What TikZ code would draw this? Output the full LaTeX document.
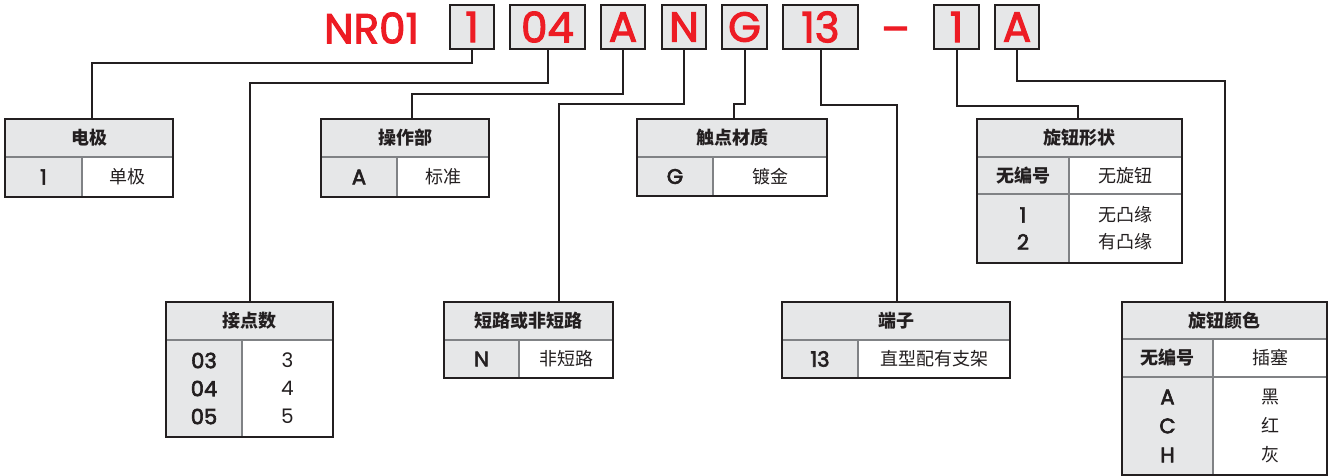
\documentclass[tikz,border=0pt]{standalone}
\usepackage{fontspec}
\setmainfont{Poppins}
\newfontfamily\redfont[FakeBold=2.5]{Poppins}
\newfontfamily\medfont[FakeBold=3]{Poppins}
\newfontfamily\cjk{Noto Sans CJK SC}
\definecolor{cred}{HTML}{ED1C24}
\definecolor{cgray}{HTML}{E6E7E8}
\definecolor{cdark}{HTML}{231F20}
\definecolor{cline}{HTML}{808285}
\begin{document}
\begin{tikzpicture}[x=1pt,y=-1pt,
  codebox/.style={draw=cdark, line width=2pt, fill=cgray, inner sep=0pt, minimum height=44pt, text=cred, font=\redfont\fontsize{42}{42}\selectfont},
  bigred/.style={inner sep=0pt, text=cred, font=\redfont\fontsize{42}{42}\selectfont},
  hdrcell/.style={fill=cgray, inner sep=0pt, text=cdark, font=\cjk\bfseries\fontsize{18}{18}\selectfont},
  codecell/.style={fill=cgray, inner sep=0pt, align=center, text=cdark, font=\medfont\fontsize{21}{28}\selectfont},
  codecjk/.style={codecell, font=\cjk\bfseries\fontsize{18}{28}\selectfont},
  valcell/.style={fill=white, inner sep=0pt, align=center, text=cdark, font=\cjk\fontsize{18}{28}\selectfont},
  valnum/.style={valcell, font=\fontsize{20}{28}\selectfont},
  frame/.style={draw=cdark, line width=2pt},
  grid/.style={draw=cline, line width=1.5pt},
  conn/.style={draw=cdark, line width=2pt},
]
\useasboundingbox (0,0) rectangle (1335,476);

% ---- top code boxes ----
\node[bigred] (nr) at (371.5,28) {NR01};
\node[codebox, minimum width=44pt] (b1) at (472,27) {1};
\node[codebox, minimum width=75pt] (b2) at (547.5,27) {04};
\node[codebox, minimum width=44pt] (b3) at (623,27) {A};
\node[codebox, minimum width=44pt] (b4) at (684,27) {N};
\node[codebox, minimum width=45pt] (b5) at (744.5,27) {G};
\node[codebox, minimum width=75pt] (b6) at (820.5,27) {13};
\node[bigred, anchor=base] (dash) at (895.5,44) {–};
\node[codebox, minimum width=45pt] (b7) at (956.5,27) {1};
\node[codebox, minimum width=44pt] (b8) at (1017,27) {A};

% ---- tables ----
% 电极
\node[hdrcell, minimum width=168pt, minimum height=38pt] (h1) at (89,138) {电极};
\node[codecell, minimum width=77pt, minimum height=40pt] (c1) at (43.5,177) {1};
\node[valcell, minimum width=91pt, minimum height=40pt] (v1) at (127.5,177) {单极};
% 操作部
\node[hdrcell, minimum width=168pt, minimum height=38pt] (h2) at (405,138) {操作部};
\node[codecell, minimum width=76pt, minimum height=40pt] (c2) at (359,177) {A};
\node[valcell, minimum width=92pt, minimum height=40pt] (v2) at (443,177) {标准};
% 触点材质
\node[hdrcell, minimum width=190pt, minimum height=38pt] (h3) at (732,138) {触点材质};
\node[codecell, minimum width=76pt, minimum height=39pt] (c3) at (675,176.5) {G};
\node[valcell, minimum width=114pt, minimum height=39pt] (v3) at (770,176.5) {镀金};
% 旋钮形状
\node[hdrcell, minimum width=205pt, minimum height=38pt] (h4) at (1079.5,138) {旋钮形状};
\node[codecjk, minimum width=92pt, minimum height=37pt] (c4a) at (1023,175.5) {无编号};
\node[valcell, minimum width=113pt, minimum height=37pt] (v4a) at (1125.5,175.5) {无旋钮};
\node[codecell, minimum width=92pt, minimum height=69pt, font=\medfont\fontsize{21}{27}\selectfont] (c4b) at (1023,228.5) {1\\2};
\node[valcell, minimum width=113pt, minimum height=69pt, font=\cjk\fontsize{18}{27}\selectfont] (v4b) at (1125.5,228.5) {无凸缘\\有凸缘};
% 接点数
\node[hdrcell, minimum width=167pt, minimum height=38pt] (h5) at (249.5,321) {接点数};
\node[codecell, minimum width=76pt, minimum height=97pt] (c5) at (204,388.5) {03\\04\\05};
\node[valnum, minimum width=91pt, minimum height=97pt] (v5) at (287.5,388.5) {3\\4\\5};
% 短路或非短路
\node[hdrcell, minimum width=169pt, minimum height=38pt] (h6) at (528.5,321) {短路或非短路};
\node[codecell, minimum width=75pt, minimum height=38pt] (c6) at (481.5,359) {N};
\node[valcell, minimum width=94pt, minimum height=38pt] (v6) at (566,359) {非短路};
% 端子
\node[hdrcell, minimum width=228pt, minimum height=38pt] (h7) at (896,321) {端子};
\node[codecell, minimum width=76pt, minimum height=38pt] (c7) at (820,359) {13};
\node[valcell, minimum width=152pt, minimum height=38pt] (v7) at (934,359) {直型配有支架};
% 旋钮颜色
\node[hdrcell, minimum width=205pt, minimum height=37pt] (h8) at (1224.5,320.5) {旋钮颜色};
\node[codecjk, minimum width=91pt, minimum height=38pt] (c8a) at (1167.5,358) {无编号};
\node[valcell, minimum width=114pt, minimum height=38pt] (v8a) at (1270,358) {插塞};
\node[codecell, minimum width=91pt, minimum height=98pt, font=\medfont\fontsize{21}{29}\selectfont] (c8b) at (1167.5,426) {A\\C\\H};
\node[valcell, minimum width=114pt, minimum height=98pt, font=\cjk\fontsize{18}{29}\selectfont] (v8b) at (1270,426) {黑\\红\\灰};

% grid lines
\foreach \h/\c/\v in {h1/c1/v1, h2/c2/v2, h3/c3/v3, h5/c5/v5, h6/c6/v6, h7/c7/v7}{
  \draw[grid] (\h.south west) -- (\h.south east);
  \draw[grid] (\c.north east) -- (\c.south east);
  \draw[frame] (\h.north west) rectangle (\v.south east);
}
\foreach \h/\ca/\va/\cb/\vb in {h4/c4a/v4a/c4b/v4b, h8/c8a/v8a/c8b/v8b}{
  \draw[grid] (\h.south west) -- (\h.south east);
  \draw[grid] (\ca.south west) -- (\va.south east);
  \draw[grid] (\ca.north east) -- (\cb.south east);
  \draw[frame] (\h.north west) rectangle (\vb.south east);
}

% ---- connectors ----
\draw[conn] (b1.south) -- ++(0,13) -| ([xshift=3pt]h1.north);
\draw[conn] (b2.south) -- ++(0,33) -| ([xshift=0.5pt]h5.north);
\draw[conn] (b3.south) -- ++(0,44.5) -| ([xshift=7pt]h2.north);
\draw[conn] (b4.south) -- ++(0,54) -| ([xshift=30.5pt]h6.north);
\draw[conn] (b5.south) -- ++(0,54) -| ([xshift=2pt]h3.north);
\draw[conn] (b6.south) -- ++(0,55) -| ([xshift=1pt]h7.north);
\draw[conn] (b7.south) -- ++(0,56) -| ([xshift=-1.5pt]h4.north);
\draw[conn] (b8.south) -- ++(0,31) -| ([xshift=0.5pt]h8.north);
\end{tikzpicture}
\end{document}
